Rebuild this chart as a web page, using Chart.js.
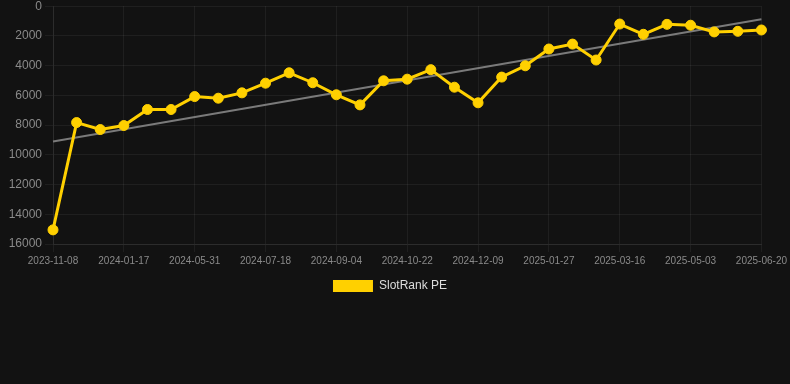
<!DOCTYPE html>
<html>
<head>
<meta charset="utf-8">
<script src="https://cdn.jsdelivr.net/npm/chart.js@4/dist/chart.umd.min.js"></script>
<style>
  html, body { margin: 0; padding: 0; background: #121212; overflow: hidden; }
  #wrap { position: relative; width: 790px; height: 306px; top: -4px; }
</style>
</head>
<body>
<div id="wrap"><canvas id="rankChart"></canvas></div>
<script>
// dates (only every third one is shown on the axis)
const dates = [
  '2023-11-08', '2023-12-01', '2023-12-24', '2024-01-17', '2024-03-02', '2024-04-16',
  '2024-05-31', '2024-06-16', '2024-07-02', '2024-07-18', '2024-08-03', '2024-08-19',
  '2024-09-04', '2024-09-20', '2024-10-06', '2024-10-22', '2024-11-07', '2024-11-23',
  '2024-12-09', '2024-12-25', '2025-01-10', '2025-01-27', '2025-02-12', '2025-02-28',
  '2025-03-16', '2025-04-01', '2025-04-17', '2025-05-03', '2025-05-19', '2025-06-04',
  '2025-06-20'
];

const slotRank = [
  15050, 7830, 8300, 8030, 6950, 6950, 6080, 6190, 5830, 5180,
  4480, 5150, 5960, 6640, 5020, 4910, 4270, 5450, 6500, 4770,
  4010, 2880, 2550, 3620, 1200, 1890, 1220, 1280, 1730, 1690,
  1600
];

// trend line: only the two ends are given, the line spans the gap
const trend = dates.map(() => null);
trend[0] = 9110;
trend[dates.length - 1] = 880;

const yMin = 0;
const yMax = 16000;
const yStep = 2000;

const YELLOW = '#FFD000';
const TICK = '#8a8a8a';
const GRID = 'rgba(255,255,255,0.06)';

Chart.defaults.font.family = '"Liberation Sans", Arial, sans-serif';

new Chart(document.getElementById('rankChart'), {
  type: 'line',
  data: {
    labels: dates,
    datasets: [{
      label: 'SlotRank PE',
      data: slotRank,
      borderColor: YELLOW,
      backgroundColor: YELLOW,
      borderWidth: 3,
      pointRadius: 5,
      pointBorderWidth: 1,
      pointBackgroundColor: YELLOW,
      pointBorderColor: YELLOW,
      tension: 0
    }, {
      label: 'trend',
      data: trend,
      spanGaps: true,
      borderColor: '#7a7a7a',
      borderWidth: 2,
      pointRadius: 0,
      tension: 0
    }]
  },
  options: {
    responsive: true,
    maintainAspectRatio: false,
    animation: false,
    layout: { padding: { right: 10 } },
    plugins: {
      legend: {
        position: 'bottom',
        labels: {
          color: '#dddddd',
          font: { size: 12 },
          boxWidth: 40,
          generateLabels: chart => Chart.defaults.plugins.legend.labels.generateLabels(chart)
            .filter(l => l.text !== 'trend')
            .map(l => ({ ...l, lineWidth: 0 }))
        }
      },
      tooltip: { enabled: false }
    },
    scales: {
      x: {
        grid: {
          color: ctx => ctx.index % 3 === 0 ? GRID : 'transparent'
        },
        border: { color: '#2c2c2c' },
        ticks: {
          color: TICK,
          font: { size: 10 },
          autoSkip: false,
          maxRotation: 0,
          callback: function (val, i) {
            return i % 3 === 0 ? this.getLabelForValue(val) : '';
          }
        }
      },
      y: {
        reverse: true,
        min: yMin,
        max: yMax,
        afterFit: scale => { scale.width = 53; },
        grid: { color: GRID },
        border: { color: '#2c2c2c' },
        ticks: {
          color: TICK,
          font: { size: 12 },
          stepSize: yStep,
          callback: v => String(v)
        }
      }
    }
  }
});
</script>
</body>
</html>
